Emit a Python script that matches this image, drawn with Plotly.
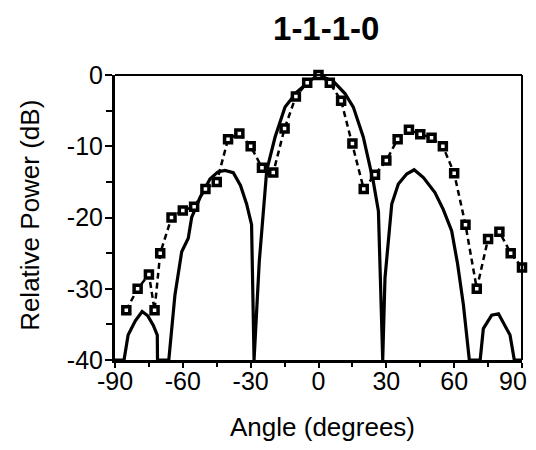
import plotly.graph_objects as go

# measured points (squares, dashed)
meas_angle = [-85, -80, -75, -72.5, -70, -65, -60, -55, -50, -45, -40, -35, -30, -25, -20,
              -15, -10, -5, 0, 5, 10, 15, 20, 25, 30, 35, 40, 45, 50, 55, 60, 65, 70, 75,
              80, 85, 90]
meas_db = [-33, -30, -28, -33, -25, -20, -19, -18.5, -16, -15, -9, -8.2, -10, -13, -13.7,
           -7.5, -3, -1.1, 0, -1.1, -3.6, -9.6, -16, -14, -12, -9, -7.7, -8.3, -8.8, -10,
           -13.8, -21, -30, -23, -22, -25, -27]

# theoretical pattern (solid), clipped at -40
theory_angle = [-90, -86, -84.2, -81, -78, -75.5, -73.1, -71.3, -71.2, -66.2, -63.5, -60.5,
                -57.6, -56.1, -52.4, -48, -44.5, -41.4, -37.7, -34.5, -31.8, -29.6, -28.5,
                -26.2, -22.9, -19.2, -14.8, -9.6, -3.8, 0, 6.6, 11.7, 15.4, 19.8, 24.2,
                26.5, 28.4, 29.4, 32.4, 35.3, 39, 42.3, 46.4, 51.5, 55.2, 58.9, 61.5, 64.1,
                66.7, 71.5, 72.9, 76.6, 79.6, 81.8, 84.7, 86.6, 90]
theory_db = [-40, -40, -36.5, -34.5, -33.2, -33.8, -35.1, -36.5, -40, -40, -30.9, -24.8,
             -22.9, -20, -17.2, -14.6, -13.6, -13.4, -13.7, -15.5, -18.1, -21, -40,
             -26.2, -13.4, -8.7, -4.5, -2.4, -0.8, 0, -0.9, -2.6, -4.5, -8.7, -14.9,
             -19.1, -40, -28.5, -18.1, -15.3, -13.9, -13.3, -14.4, -16.5, -18.9, -21.9,
             -26.5, -32.3, -40, -40, -35.6, -33.7, -33.5, -34.7, -36.5, -40, -40]

x_ticks = [-90, -60, -30, 0, 30, 60, 90]
x_labels = ["-90", "-60", "-30", "0", "30", "60", ""]  # last one drawn below, nudged left
y_ticks = [0, -10, -20, -30, -40]
y_labels = ["0", "-10", "-20", "-30", "-40"]

fig = go.Figure()
fig.add_trace(go.Scatter(x=theory_angle, y=theory_db, mode="lines",
                         line=dict(color="black", width=3.2), cliponaxis=True))
fig.add_trace(go.Scatter(x=meas_angle, y=meas_db, mode="lines+markers",
                         line=dict(color="black", width=2.5, dash="6px,4px"),
                         marker=dict(symbol="square", size=7, color="white",
                                     line=dict(color="black", width=3.5)),
                         cliponaxis=False))

font = "Liberation Sans, Arial, sans-serif"
# page body has an 8px margin, so the figure is drawn 16px smaller
fig.update_layout(
    width=520, height=434,
    margin=dict(l=107, r=6, t=67, b=82),
    plot_bgcolor="white", paper_bgcolor="white",
    showlegend=False,
    font=dict(family=font, color="black", size=25),
    title=dict(text="<b>1-1-1-0</b>", x=0.612, xanchor="center", y=0.953,
               yanchor="middle", font=dict(size=33, family=font)),
)
fig.update_xaxes(
    range=[-90, 90], tickvals=x_ticks, ticktext=x_labels, ticks="outside", ticklen=5,
    tickwidth=2, tickcolor="black", showline=True, linewidth=3, linecolor="black",
    showgrid=False, zeroline=False, tickfont=dict(size=25), ticklabelstandoff=-8,
    minor=dict(dtick=15, tick0=-90, ticks="outside", ticklen=4, tickwidth=2,
               tickcolor="black"),
)
fig.update_yaxes(
    range=[-40, 0], tickvals=y_ticks, ticktext=y_labels, ticks="outside", ticklen=7,
    tickwidth=2, tickcolor="black", showline=True, linewidth=3, linecolor="black",
    showgrid=False, zeroline=False, tickfont=dict(size=25), ticklabelstandoff=-3,
    minor=dict(dtick=5, tick0=0, ticks="outside", ticklen=6, tickwidth=2,
               tickcolor="black"),
)
fig.add_annotation(text="90", x=90, xref="x", yref="paper", y=-0.074,
                   xanchor="center", yanchor="middle", xshift=-9, showarrow=False,
                   font=dict(size=25))
fig.add_annotation(text="Angle (degrees)", xref="paper", yref="paper", x=0.511, y=-0.235,
                   xanchor="center", yanchor="middle", showarrow=False,
                   font=dict(size=26))
fig.add_annotation(text="Relative Power (dB)", xref="paper", yref="paper", x=-0.209,
                   y=0.509, xanchor="center", yanchor="middle", textangle=-90,
                   showarrow=False, font=dict(size=26))
# thinner frame on top and right
fig.add_shape(type="line", xref="paper", yref="paper", x0=0, x1=1, y0=1, y1=1,
              line=dict(color="black", width=2))
fig.add_shape(type="line", xref="paper", yref="paper", x0=1, x1=1, y0=0, y1=1,
              line=dict(color="black", width=2))

fig.write_html("out.html")
